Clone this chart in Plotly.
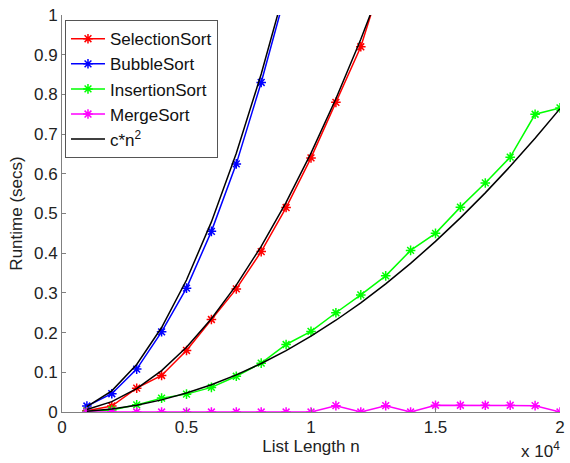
import plotly.graph_objects as go

n_vals = [0.1, 0.2, 0.3, 0.4, 0.5, 0.6, 0.7, 0.8, 0.9, 1.0,
          1.1, 1.2, 1.3, 1.4, 1.5, 1.6, 1.7, 1.8, 1.9, 2.0]

selection_n = [0.1, 0.2, 0.3, 0.4, 0.5, 0.6, 0.7, 0.8, 0.9, 1.0, 1.1, 1.2, 1.3]
selection = [0.003, 0.015, 0.06, 0.092, 0.155, 0.233, 0.31, 0.404, 0.515, 0.64, 0.78, 0.92, 1.12]

bubble_n = [0.1, 0.2, 0.3, 0.4, 0.5, 0.6, 0.7, 0.8, 0.9]
bubble = [0.015, 0.046, 0.108, 0.202, 0.312, 0.455, 0.625, 0.83, 1.06]

insertion = [0.002, 0.005, 0.018, 0.035, 0.045, 0.062, 0.09, 0.123, 0.17, 0.203,
             0.25, 0.295, 0.343, 0.407, 0.45, 0.516, 0.577, 0.642, 0.75, 0.766]

merge = [0, 0, 0, 0, 0, 0, 0, 0, 0, 0,
         0.016, 0, 0.016, 0, 0.017, 0.017, 0.017, 0.017, 0.016, 0]

# c constants for c*n^2 curves (n in units of 1e4)
c_bubble = 1.33
c_selection = 0.652
c_insertion = 0.191

x_ticks = [0, 0.5, 1, 1.5, 2]
x_labels = ["0", "0.5", "1", "1.5", "2"]
y_ticks = [0, 0.1, 0.2, 0.3, 0.4, 0.5, 0.6, 0.7, 0.8, 0.9, 1]
y_labels = ["0", "0.1", "0.2", "0.3", "0.4", "0.5", "0.6", "0.7", "0.8", "0.9", "1"]

FONT = "Arial"
FS = 17

fig = go.Figure()

def series(x, y, color, name):
    fig.add_trace(go.Scatter(
        x=x, y=y, mode="lines+markers", name=name,
        line=dict(color=color, width=1.5),
        marker=dict(symbol="asterisk-open", size=8, color=color,
                    line=dict(color=color, width=1.5)),
    ))

series(selection_n, selection, "#ff0000", "SelectionSort")
series(bubble_n, bubble, "#0000ff", "BubbleSort")
series(n_vals, insertion, "#00ff00", "InsertionSort")
series(n_vals, merge, "#ff00ff", "MergeSort")

for i, c in enumerate([c_selection, c_bubble, c_insertion]):
    fig.add_trace(go.Scatter(
        x=n_vals, y=[c * v * v for v in n_vals], mode="lines",
        name="c*n<sup>2</sup>", showlegend=(i == 0),
        line=dict(color="#000000", width=1.5),
    ))

axis_common = dict(
    showgrid=False, zeroline=False, ticks="inside", ticklen=4,
    tickcolor="#808080", linecolor="#808080", linewidth=1, showline=True,
    tickfont=dict(family=FONT, size=FS, color="#222222"),
)

fig.update_layout(
    width=570, height=463,
    margin=dict(l=62, r=5, t=15, b=51),
    paper_bgcolor="white", plot_bgcolor="white",
    font=dict(family=FONT, color="#222222"),
    xaxis=dict(range=[0, 2], tickvals=x_ticks, ticktext=x_labels,
               title=dict(text="List Length n", font=dict(size=FS), standoff=0),
               **axis_common),
    yaxis=dict(range=[0, 1], tickvals=y_ticks, ticktext=y_labels,
               title=dict(text="Runtime (secs)", font=dict(size=FS), standoff=7),
               **axis_common),
    legend=dict(x=0.006, y=0.987, xanchor="left", yanchor="top",
                bordercolor="#555555", borderwidth=1, bgcolor="white",
                font=dict(family=FONT, size=FS, color="#111111"),
                tracegroupgap=0, itemwidth=34),
    annotations=[dict(text="x 10<sup>4</sup>", xref="paper", yref="paper",
                      x=1.005, y=-0.096, xanchor="right", yanchor="middle",
                      showarrow=False, font=dict(family=FONT, size=FS, color="#222222"))],
)

fig.write_html("out.html", config={"displayModeBar": False},
               post_script="document.body.style.margin='0';")
